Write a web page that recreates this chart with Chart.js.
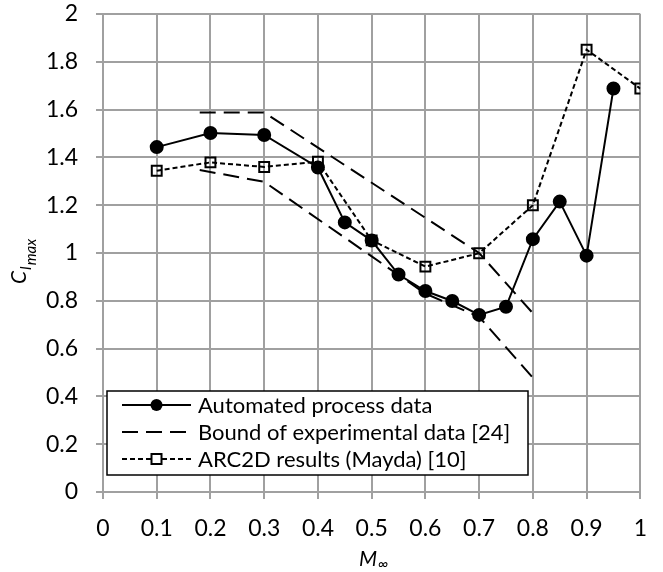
<!DOCTYPE html>
<html>
<head>
<meta charset="utf-8">
<script src="https://cdn.jsdelivr.net/npm/chart.js@4.4.0/dist/chart.umd.min.js"></script>
<style>
  body { margin: 0; background: #fff; }
  canvas { display: block; }
</style>
</head>
<body>
<canvas id="clmaxChart" width="663" height="572"></canvas>
<script>
// Mach numbers and Cl_max values
const autoMach = [0.1, 0.2, 0.3, 0.4, 0.45, 0.5, 0.55, 0.6, 0.65, 0.7, 0.75, 0.8, 0.85, 0.9, 0.95];
const autoClmax = [1.443, 1.502, 1.494, 1.358, 1.128, 1.052, 0.91, 0.841, 0.799, 0.741, 0.775, 1.058, 1.215, 0.989, 1.688];

const arcMach = [0.1, 0.2, 0.3, 0.4, 0.5, 0.6, 0.7, 0.8, 0.9, 1.0];
const arcClmax = [1.344, 1.379, 1.36, 1.382, 1.053, 0.943, 0.999, 1.2, 1.851, 1.688];

const boundUpperMach = [0.18, 0.3, 0.7, 0.8];
const boundUpperClmax = [1.588, 1.588, 1.0, 0.748];
const boundLowerMach = [0.18, 0.3, 0.6, 0.7, 0.8];
const boundLowerClmax = [1.347, 1.298, 0.83, 0.733, 0.478];

const legendLabels = ['Automated process data', 'Bound of experimental data [24]', 'ARC2D results (Mayda) [10]'];

const FONT = 'Lato, "Open Sans", sans-serif';
const GRID = '#a0a0a0';

const toPoints = (xs, ys) => xs.map((x, i) => ({ x: x, y: ys[i] }));
const fmt = v => String(+Number(v).toFixed(1));

// legend box + axis titles with subscripts
const extras = {
    id: 'extras',
    afterDraw(chart) {
        const ctx = chart.ctx;
        ctx.save();

        // legend
        const bx = 107, by = 391, bw = 421, bh = 84;
        ctx.fillStyle = '#fff';
        ctx.fillRect(bx, by, bw, bh);
        ctx.strokeStyle = '#000';
        ctx.lineWidth = 1.5;
        ctx.strokeRect(bx, by, bw, bh);

        const rows = [405, 432, 459];
        const dashes = [[], [16, 8], [5, 3]];
        for (let i = 0; i < 3; i++) {
            const y = rows[i];
            ctx.beginPath();
            ctx.setLineDash(dashes[i]);
            ctx.lineWidth = 2;
            ctx.moveTo(122, y);
            ctx.lineTo(191, y);
            ctx.stroke();
            ctx.setLineDash([]);
            if (i === 0) {
                ctx.beginPath();
                ctx.fillStyle = '#000';
                ctx.arc(156.5, y, 6, 0, Math.PI * 2);
                ctx.fill();
            }
            if (i === 2) {
                ctx.fillStyle = '#fff';
                ctx.fillRect(151.5, y - 5, 10, 10);
                ctx.strokeRect(151.5, y - 5, 10, 10);
            }
            ctx.fillStyle = '#000';
            ctx.font = '22px ' + FONT;
            ctx.textBaseline = 'middle';
            ctx.textAlign = 'left';
            ctx.fillText(legendLabels[i], 198, y + 1);
        }

        // x title: M_inf
        ctx.textBaseline = 'alphabetic';
        ctx.font = 'italic 21px ' + FONT;
        ctx.fillText('M', 359, 566);
        const mw = ctx.measureText('M').width;
        ctx.font = 'italic 15px ' + FONT;
        ctx.fillText('\u221e', 359 + mw + 1, 569);

        // y title: C_lmax
        ctx.translate(26, 284);
        ctx.rotate(-Math.PI / 2);
        ctx.font = 'italic 21px ' + FONT;
        ctx.fillText('C', 0, 0);
        const cw = ctx.measureText('C').width;
        ctx.font = 'italic 16px ' + FONT;
        ctx.fillText('l', cw + 1, 5);
        const lw = ctx.measureText('l').width;
        ctx.font = 'italic 15px ' + FONT;
        ctx.fillText('max', cw + lw + 2, 10);

        ctx.restore();
    }
};

const boundStyle = {
    showLine: true,
    borderColor: '#000',
    borderWidth: 2,
    borderDash: [16, 8],
    pointRadius: 0,
    fill: false,
    order: 2
};

new Chart(document.getElementById('clmaxChart'), {
    type: 'scatter',
    data: {
        datasets: [
            {
                label: legendLabels[2],
                data: toPoints(arcMach, arcClmax),
                showLine: true,
                borderColor: '#000',
                borderWidth: 2,
                borderDash: [5, 3],
                pointStyle: 'rect',
                pointRadius: 7,
                pointBorderWidth: 2,
                pointBackgroundColor: 'rgba(0,0,0,0)',
                pointBorderColor: '#000',
                order: 0
            },
            {
                label: legendLabels[0],
                data: toPoints(autoMach, autoClmax),
                showLine: true,
                borderColor: '#000',
                borderWidth: 2,
                pointStyle: 'circle',
                pointRadius: 6,
                pointBackgroundColor: '#000',
                pointBorderColor: '#000',
                order: 1
            },
            Object.assign({ label: legendLabels[1], data: toPoints(boundUpperMach, boundUpperClmax) }, boundStyle),
            Object.assign({ label: legendLabels[1], data: toPoints(boundLowerMach, boundLowerClmax) }, boundStyle)
        ]
    },
    options: {
        responsive: false,
        animation: false,
        layout: { padding: { top: 0, right: 15, left: 0, bottom: 0 } },
        plugins: {
            legend: { display: false },
            tooltip: { enabled: false }
        },
        scales: {
            x: {
                type: 'linear',
                min: 0,
                max: 1,
                ticks: { stepSize: 0.1, color: '#000', font: { family: FONT, size: 23 }, padding: 16, maxRotation: 0, callback: fmt },
                grid: { color: GRID, lineWidth: 2, tickLength: 7, tickColor: GRID },
                border: { color: GRID, width: 2 },
                afterFit: s => { s.height = 80; }
            },
            y: {
                min: 0,
                max: 2,
                ticks: { stepSize: 0.2, color: '#000', font: { family: FONT, size: 23 }, padding: 18, callback: fmt },
                grid: { color: GRID, lineWidth: 2, tickLength: 7, tickColor: GRID },
                border: { color: GRID, width: 2 },
                afterFit: s => { s.width = 103; s.paddingTop = 14; s.paddingBottom = 0; }
            }
        }
    },
    plugins: [extras]
});
</script>
</body>
</html>
